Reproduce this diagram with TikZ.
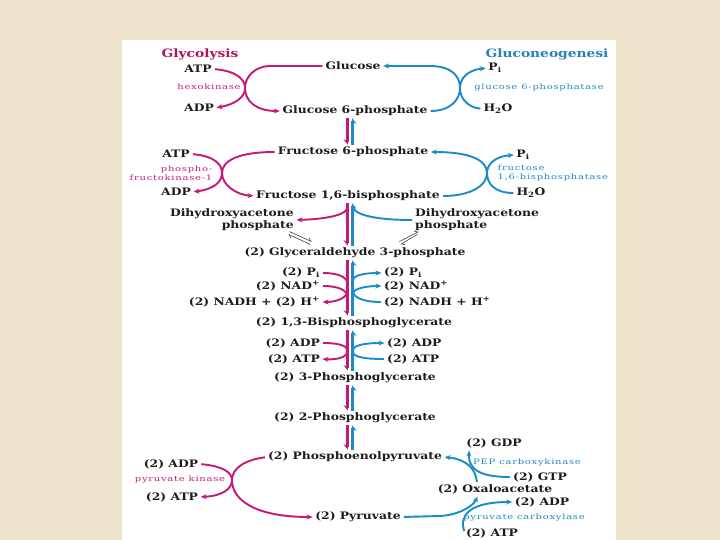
\documentclass[tikz,border=0pt]{standalone}
\usepackage{fontspec}
\newfontfamily\mfont[FakeStretch=1.2]{DejaVu Serif}
\newfontfamily\efont[FakeStretch=1.35,LetterSpace=10]{DejaVu Serif}
\usetikzlibrary{arrows.meta,calc}
\definecolor{bgbeige}{RGB}{237,228,203}
\definecolor{gmag}{RGB}{198,24,122}
\definecolor{gblue}{RGB}{26,140,200}
\definecolor{tmag}{RGB}{176,20,96}
\definecolor{tblue}{RGB}{40,132,176}
\definecolor{emag}{RGB}{196,30,124}
\definecolor{eblue}{RGB}{30,138,196}
\definecolor{ink}{RGB}{30,28,28}
\begin{document}
\begin{tikzpicture}[x=1pt,y=-1pt,
  met/.style={font={\mfont\bfseries\fontsize{10.3}{12}\selectfont},text=ink,inner sep=1pt},
  ttl/.style={font={\mfont\bfseries\fontsize{11.5}{13}\selectfont},inner sep=1pt},
  enz/.style={font={\efont\fontsize{7.4}{8.5}\selectfont},inner sep=0.5pt},
  magln/.style={draw=gmag,line width=1.9pt},
  bluln/.style={draw=gblue,line width=1.9pt},
  magarr/.style={magln,-{Stealth[length=6pt,width=5pt]},shorten >=1.5pt,shorten <=2pt},
  bluarr/.style={bluln,-{Stealth[length=6pt,width=5pt]},shorten >=1.5pt,shorten <=2pt},
  magv/.style={draw=gmag,line width=3.6pt,-{Stealth[harpoon,swap,length=5pt,width=8pt]},shorten >=1pt,shorten <=1pt},
  bluv/.style={draw=gblue,line width=3.6pt,-{Stealth[harpoon,swap,length=5pt,width=8pt]},shorten >=1pt,shorten <=1pt},
  eqh/.style={draw=ink!85,line width=0.6pt,-{Straight Barb[harpoon,length=3pt,width=5pt]}}]
\useasboundingbox (0,0) rectangle (720,540);
\fill[bgbeige] (0,0) rectangle (720,540);
\fill[white] (122,40) rectangle (616,540);
\coordinate (mx) at (347.5,0);
\coordinate (bx) at (352.5,0);

% titles
\node[ttl,text=tmag] (gly) at (200,54) {Glycolysis};
\node[ttl,text=tblue] (gng) at (547,54) {Gluconeogenesi};

% row 1
\node[met] (atp1) at (198,69) {ATP};
\node[enz,text=emag] (hk) at (209,87) {hexokinase};
\node[met] (adp1) at (199,108) {ADP};
\node[met] (glc) at (353,66) {Glucose};
\node[met] (g6p) at (355,111) {Glucose 6-phosphate};
\node[met] (pi1) at (495,68) {P\textsubscript{i}};
\node[enz,text=eblue] (g6pase) at (539,88) {glucose 6-phosphatase};
\node[met] (h2o1) at (498,109) {H\textsubscript{2}O};

\draw[magarr] (glc.west) -- (270,66) .. controls (256,66) and (245,76) .. (245,88) .. controls (245,101) and (256,111) .. (g6p.west);
\draw[magarr] (atp1.east) .. controls (236,71) and (245,79) .. (245,88) .. controls (245,97) and (236,104) .. (adp1.east);
\draw[bluarr] (g6p.east) .. controls (450,111) and (460,100) .. (460,88) .. controls (460,75) and (450,66) .. (430,66) -- (glc.east);
\draw[bluarr] (h2o1.west) .. controls (467,107) and (460,98) .. (460,88) .. controls (460,78) and (468,70) .. (pi1.west);

% row 2
\node[met] (f6p) at (353,152) {Fructose 6-phosphate};
\node[met] (f16bp) at (348,196) {Fructose 1,6-bisphosphate};
\node[met] (atp2) at (176,154) {ATP};
\node[enz,text=emag,align=right,anchor=east] (pfk) at (213,173) {phospho-\\fructokinase-1};
\node[met] (adp2) at (176,192) {ADP};
\node[met] (pi2) at (523,155) {P\textsubscript{i}};
\node[enz,text=eblue,align=left,anchor=west] (fbpase) at (497,173) {fructose\\1,6-bisphosphatase};
\node[met] (h2o2) at (531,193) {H\textsubscript{2}O};

\draw[magv] (g6p.south -| mx) -- (f6p.north -| mx);
\draw[bluv] (f6p.north -| bx) -- (g6p.south -| bx);

\draw[magarr] (f6p.west) .. controls (240,152) and (222,160) .. (222,173) .. controls (222,186) and (238,195) .. (f16bp.west);
\draw[magarr] (atp2.east) .. controls (214,156) and (222,164) .. (222,173) .. controls (222,182) and (214,189) .. (adp2.east);
\draw[bluarr] (f16bp.east) .. controls (470,196) and (487,186) .. (487,173) .. controls (487,160) and (470,152) .. (f6p.east);
\draw[bluarr] (h2o2.west) .. controls (495,193) and (487,184) .. (487,173) .. controls (487,163) and (497,156) .. (pi2.west);

% DHAP / G3P
\node[met,align=right,anchor=east] (dhapL) at (295,220) {Dihydroxyacetone\\phosphate};
\node[met,align=left,anchor=west] (dhapR) at (414,220) {Dihydroxyacetone\\phosphate};
\node[met] (g3p) at (355,253) {(2) Glyceraldehyde 3-phosphate};

\draw[magv] (f16bp.south -| mx) -- (g3p.north -| mx);
\draw[bluv] (g3p.north -| bx) -- (f16bp.south -| bx);
\coordinate (sL) at ($(f16bp.south -| mx)+(0,3)$);
\coordinate (sR) at ($(f16bp.south -| bx)+(0,3)$);
\draw[magarr] (sL) .. controls (347.5,214) and (330,219) .. (dhapL.east);
\draw[bluln,shorten <=2pt] (dhapR.west) .. controls (380,220) and (352.5,216) .. (sR);

\coordinate (eL1) at (289.6,231.6); \coordinate (eL2) at (311.6,241.6);
\coordinate (eL3) at (310.4,244.4); \coordinate (eL4) at (288.4,234.4);
\draw[eqh] (eL1) -- (eL2);
\draw[eqh] (eL3) -- (eL4);
\coordinate (eR1) at (399.4,241.6); \coordinate (eR2) at (418.6,231.6);
\coordinate (eR3) at (417.4,234.4); \coordinate (eR4) at (400.6,244.4);
\draw[eqh] (eR3) -- (eR4);
\draw[eqh] (eR1) -- (eR2);

% G3P -> BPG
\node[met,anchor=east] (pi3) at (321,273) {(2) P\textsubscript{i}};
\node[met,anchor=east] (nad3) at (321,286) {(2) NAD\textsuperscript{+}};
\node[met,anchor=east] (nadh3) at (321,302) {(2) NADH + (2) H\textsuperscript{+}};
\node[met,anchor=west] (pi3b) at (383,273) {(2) P\textsubscript{i}};
\node[met,anchor=west] (nad3b) at (383,286) {(2) NAD\textsuperscript{+}};
\node[met,anchor=west] (nadh3b) at (383,302) {(2) NADH + H\textsuperscript{+}};
\node[met] (bpg) at (354,323) {(2) 1,3-Bisphosphoglycerate};

\draw[magv] (g3p.south -| mx) -- (bpg.north -| mx);
\draw[bluv] (bpg.north -| bx) -- (g3p.south -| bx);
\coordinate (jm1) at (347.5,284); \coordinate (jm2) at (347.5,297); \coordinate (jm3) at (347.5,289);
\coordinate (jb1) at (352.5,283); \coordinate (jb2) at (352.5,296); \coordinate (jb3) at (352.5,290);
\draw[magln,shorten <=2pt] (pi3.east) .. controls (338,273) and (347.5,277) .. (jm1);
\draw[magln,shorten <=2pt] (nad3.east) .. controls (338,286) and (347.5,290) .. (jm2);
\draw[magarr] (jm3) .. controls (347.5,297) and (338,302) .. (nadh3.east);
\draw[bluarr] (jb1) .. controls (352.5,276) and (362,273) .. (pi3b.west);
\draw[bluarr] (jb2) .. controls (352.5,290) and (362,286) .. (nad3b.west);
\draw[bluln,shorten <=2pt] (nadh3b.west) .. controls (362,302) and (352.5,297) .. (jb3);

% BPG -> 3PG
\node[met,anchor=east] (adp4) at (321,343) {(2) ADP};
\node[met,anchor=east] (atp4) at (321,359) {(2) ATP};
\node[met,anchor=west] (adp4b) at (386,343) {(2) ADP};
\node[met,anchor=west] (atp4b) at (386,359) {(2) ATP};
\node[met] (pg3) at (355,378) {(2) 3-Phosphoglycerate};

\draw[magv] (bpg.south -| mx) -- (pg3.north -| mx);
\draw[bluv] (pg3.north -| bx) -- (bpg.south -| bx);
\draw[magarr] (adp4.east) .. controls (340,343) and (347.5,346) .. (347.5,351) .. controls (347.5,356) and (340,360) .. (atp4.east);
\draw[bluarr] (atp4b.west) .. controls (360,359) and (352.5,356) .. (352.5,351) .. controls (352.5,346) and (362,343) .. (adp4b.west);

% 3PG -> 2PG -> PEP
\node[met] (pg2) at (355,418) {(2) 2-Phosphoglycerate};
\node[met] (pep) at (355,457) {(2) Phosphoenolpyruvate};
\draw[magv] (pg3.south -| mx) -- (pg2.north -| mx);
\draw[bluv] (pg2.north -| bx) -- (pg3.south -| bx);
\draw[magv] (pg2.south -| mx) -- (pep.north -| mx);
\draw[bluv] (pep.north -| bx) -- (pg2.south -| bx);

% PEP -> pyruvate (glycolysis)
\node[met] (adp5) at (171,464) {(2) ADP};
\node[enz,text=emag] (pk) at (180,480) {pyruvate kinase};
\node[met] (atp5) at (172,497) {(2) ATP};
\node[met] (pyr) at (358,517) {(2) Pyruvate};
\draw[magarr] (pep.west) .. controls (245,460) and (232,468) .. (232,480) .. controls (232,500) and (255,517) .. (pyr.west);
\draw[magarr] (adp5.east) .. controls (222,466) and (232,472) .. (232,480) .. controls (232,489) and (222,496) .. (atp5.east);

% pyruvate -> PEP (gluconeogenesis)
\node[met] (gdp) at (494,443) {(2) GDP};
\node[enz,text=eblue] (pepck) at (527,463) {PEP carboxykinase};
\node[met] (gtp) at (540,477) {(2) GTP};
\node[met] (oaa) at (495,489) {(2) Oxaloacetate};
\node[met] (adp6) at (542,502) {(2) ADP};
\node[enz,text=eblue] (pc) at (524,518) {pyruvate carboxylase};
\node[met] (atp6) at (492,533) {(2) ATP};

\draw[bluarr] ($(oaa.north)+(-18,1)$) .. controls (476,468) and (465,459) .. (pep.east);
\draw[bluarr] (gtp.west) .. controls (485,477) and (468,472) .. ($(gdp.south west)+(4,0)$);
\draw[bluarr] (pyr.east) -- (440,516) .. controls (460,515) and (474,505) .. ($(oaa.south)+(-17,0)$);
\draw[bluarr] (atp6.west) .. controls (459,515) and (470,502) .. (adp6.west);
\end{tikzpicture}
\end{document}
